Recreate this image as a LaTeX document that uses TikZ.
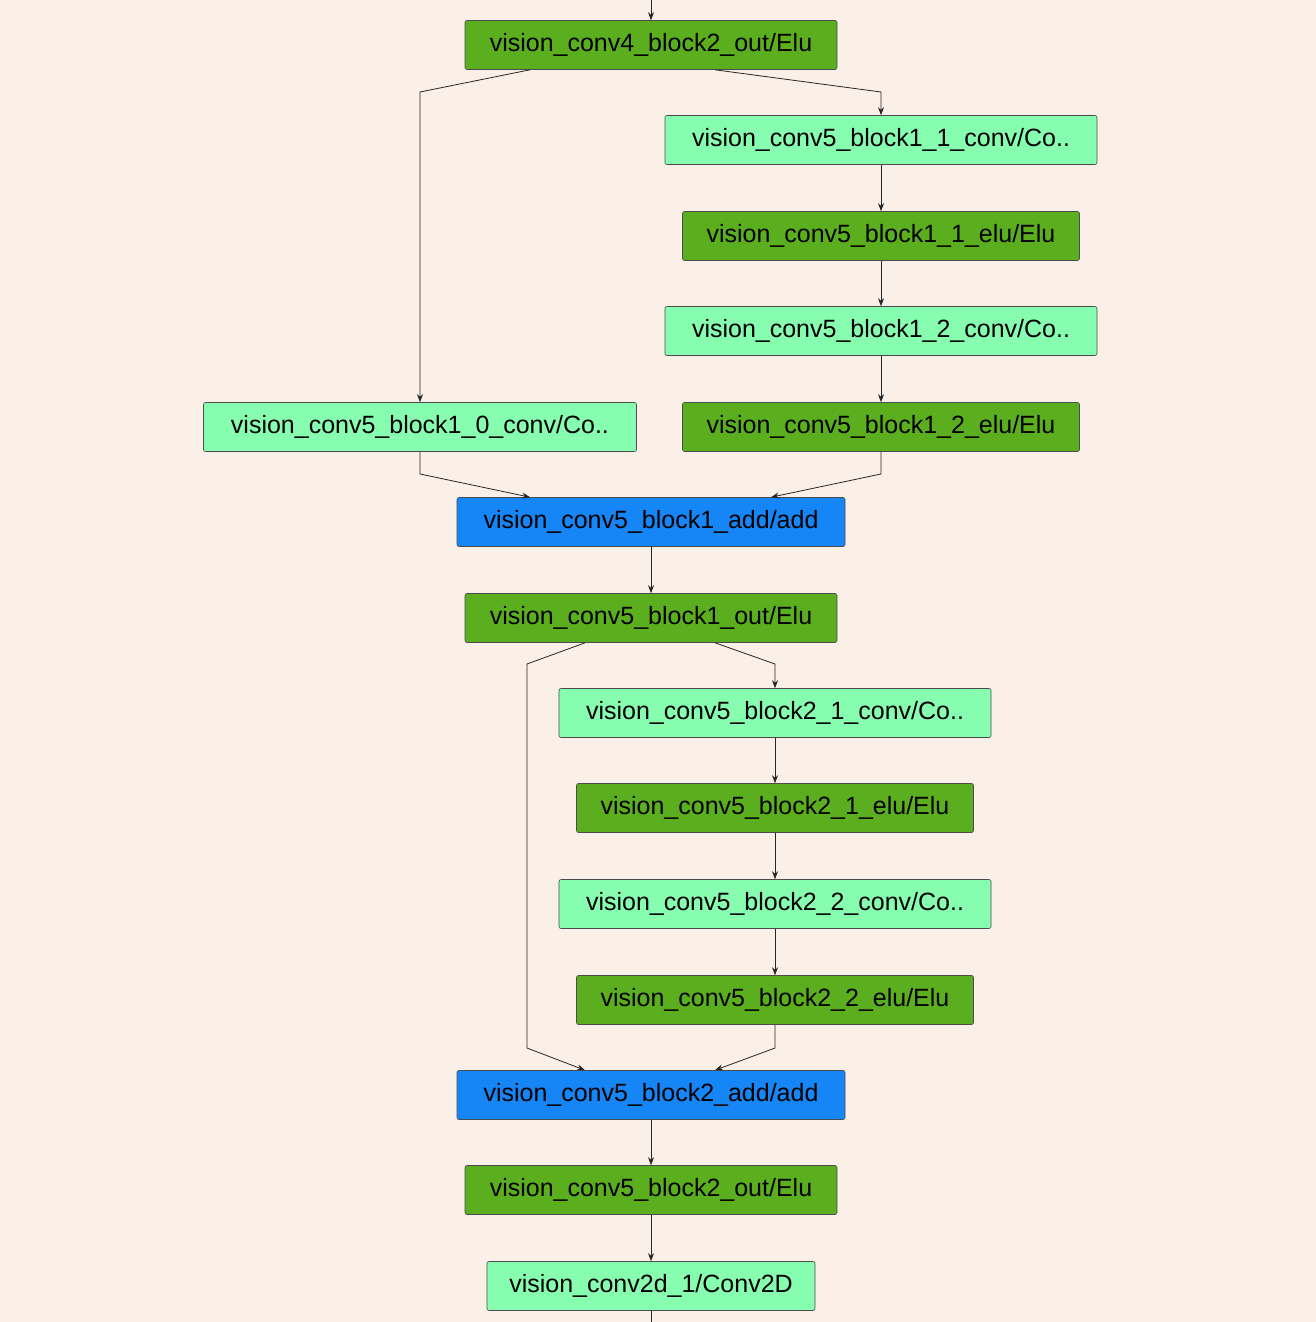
\documentclass[tikz,border=0pt]{standalone}
\usepackage{fontspec}
\setmainfont{Liberation Sans}
\usetikzlibrary{arrows.meta}
\definecolor{bg}{HTML}{FAF0E8}
\definecolor{dg}{HTML}{5BAF1F}
\definecolor{lg}{HTML}{87FDB0}
\definecolor{bl}{HTML}{1685F5}
\tikzset{
 box/.style={draw=black!70,line width=0.6pt,rounded corners=2pt,minimum height=49pt,inner sep=0pt,font=\fontsize{25}{28}\selectfont},
 elu/.style={box,fill=dg},
 conv/.style={box,fill=lg},
 add/.style={box,fill=bl},
 edge/.style={draw=black!85,line width=0.8pt,-{Stealth[length=8pt,width=6pt]}}
}
\begin{document}
\begin{tikzpicture}[x=1pt,y=-1pt]
\fill[bg] (0,0) rectangle (1316,1322);
\useasboundingbox (0,0) rectangle (1316,1322);
\node[elu,minimum width=372pt] (n0) at (651,45) {vision\_conv4\_block2\_out/Elu};
\node[conv,minimum width=432pt] (c11) at (881,140) {vision\_conv5\_block1\_1\_conv/Co..};
\node[elu,minimum width=397pt] (e11) at (881,236) {vision\_conv5\_block1\_1\_elu/Elu};
\node[conv,minimum width=432pt] (c12) at (881,331) {vision\_conv5\_block1\_2\_conv/Co..};
\node[elu,minimum width=397pt] (e12) at (881,427) {vision\_conv5\_block1\_2\_elu/Elu};
\node[conv,minimum width=433pt] (c10) at (420,427) {vision\_conv5\_block1\_0\_conv/Co..};
\node[add,minimum width=388pt] (a1) at (651,522) {vision\_conv5\_block1\_add/add};
\node[elu,minimum width=372pt] (o1) at (651,618) {vision\_conv5\_block1\_out/Elu};
\node[conv,minimum width=432pt] (c21) at (775,713) {vision\_conv5\_block2\_1\_conv/Co..};
\node[elu,minimum width=397pt] (e21) at (775,808) {vision\_conv5\_block2\_1\_elu/Elu};
\node[conv,minimum width=432pt] (c22) at (775,904) {vision\_conv5\_block2\_2\_conv/Co..};
\node[elu,minimum width=397pt] (e22) at (775,1000) {vision\_conv5\_block2\_2\_elu/Elu};
\node[add,minimum width=388pt] (a2) at (651,1095) {vision\_conv5\_block2\_add/add};
\node[elu,minimum width=372pt] (o2) at (651,1190) {vision\_conv5\_block2\_out/Elu};
\node[conv,minimum width=328pt] (cv) at (651,1286) {vision\_conv2d\_1/Conv2D};
\coordinate (top) at (651,0);
\coordinate (bot) at (651,1322);
\draw[edge] (top) -- (n0.north);
\draw[edge] (n0.south -| 530,0) -- (420,92) -- (c10.north);
\draw[edge] (n0.south -| 715,0) -- (881,92) -- (c11.north);
\draw[edge] (c11) -- (e11);
\draw[edge] (e11) -- (c12);
\draw[edge] (c12) -- (e12);
\draw[edge] (c10.south) -- (420,474) -- (a1.north -| 530,0);
\draw[edge] (e12.south) -- (881,474) -- (a1.north -| 771,0);
\draw[edge] (a1) -- (o1);
\draw[edge] (o1.south -| 585,0) -- (527,664) -- (527,1048) -- (a2.north -| 585,0);
\draw[edge] (o1.south -| 715,0) -- (775,664) -- (c21.north);
\draw[edge] (c21) -- (e21);
\draw[edge] (e21) -- (c22);
\draw[edge] (c22) -- (e22);
\draw[edge] (e22.south) -- (775,1048) -- (a2.north -| 715,0);
\draw[edge] (a2) -- (o2);
\draw[edge] (o2) -- (cv);
\draw[draw=black!85,line width=0.8pt] (cv.south) -- (bot);
\end{tikzpicture}
\end{document}
